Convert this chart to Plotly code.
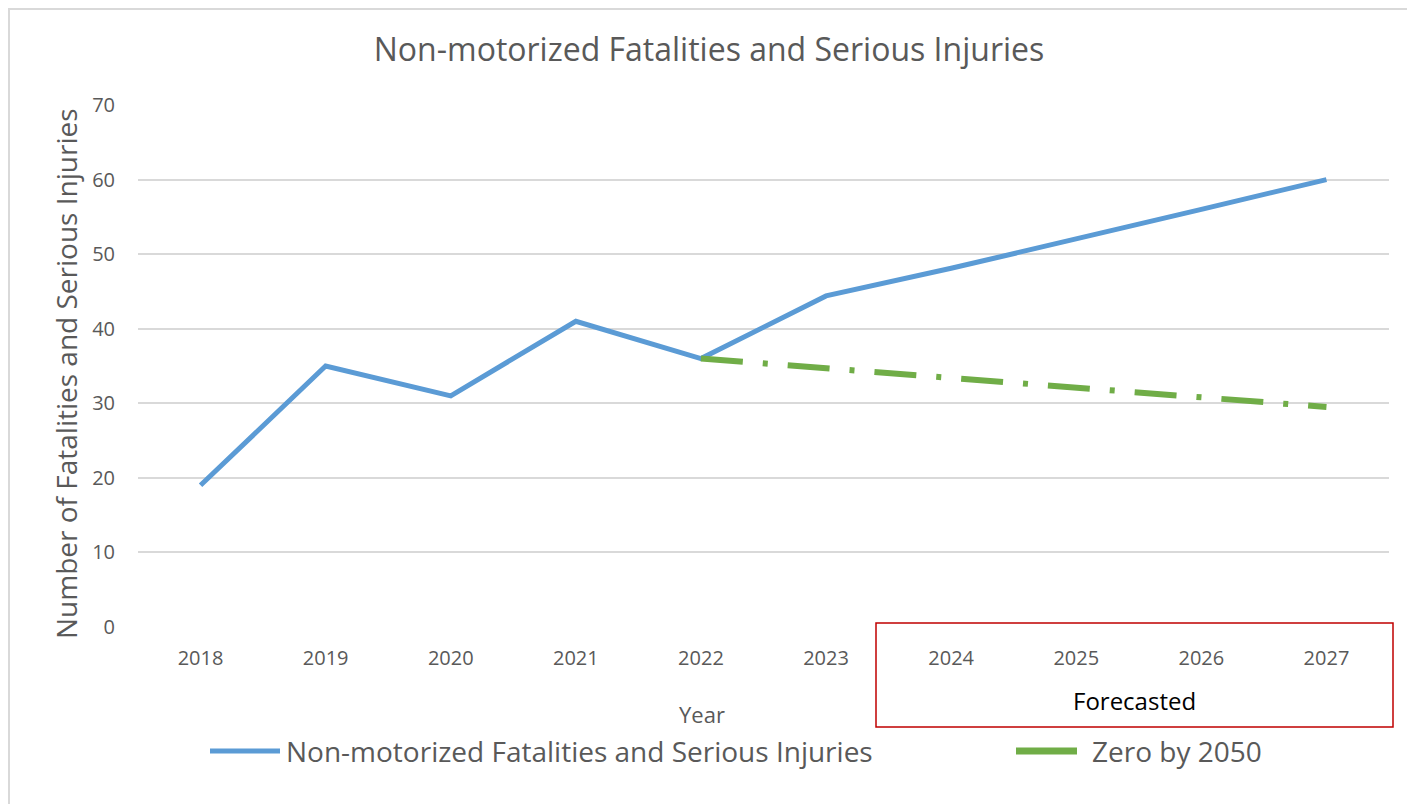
import plotly.graph_objects as go

years = ["2018", "2019", "2020", "2021", "2022", "2023", "2024", "2025", "2026", "2027"]
actual_vals = [19, 35, 31, 41, 36, 44.4, 48.1, 52, 56, 60]
target_years = ["2022", "2023", "2024", "2025", "2026", "2027"]
target_vals = [36, 34.7, 33.4, 32.1, 30.8, 29.5]
y_ticks = [0, 10, 20, 30, 40, 50, 60, 70]
series_names = ["Non-motorized Fatalities and Serious Injuries", "Zero by 2050"]
series_colors = ["#5B9BD5", "#70AD47"]

FONT = "Open Sans"
GREY_TXT = "#595959"

# the page adds an 8px body margin; lay out in reference coordinates minus 8
OFF = 8
W, H = 1415 - OFF, 804 - OFF
L, R, T, B = 138 - OFF, 1415 - 1389, 105 - OFF, 804 - 627
pw, ph = W - L - R, H - T - B

def px_x(p):
    return (p - OFF - L) / pw

def px_y(p):
    return (H - B - (p - OFF)) / ph

fig = go.Figure()
fig.add_trace(go.Scatter(
    x=years, y=actual_vals, mode="lines",
    name=series_names[0],
    line=dict(color=series_colors[0], width=5),
    showlegend=False,
))
fig.add_trace(go.Scatter(
    x=target_years, y=target_vals, mode="lines",
    name=series_names[1],
    line=dict(color=series_colors[1], width=6, dash="42px,20px,5px,20px"),
    showlegend=False,
))

fig.update_layout(
    width=W, height=H,
    margin=dict(l=L, r=R, t=T, b=B),
    paper_bgcolor="white", plot_bgcolor="white",
    font=dict(family=FONT, color=GREY_TXT),
    title=dict(text="Non-motorized Fatalities and Serious Injuries",
               x=px_x(709), xref="paper", xanchor="center",
               y=1 - (50 - OFF) / H, yref="container", yanchor="middle",
               font=dict(size=32, color=GREY_TXT, family=FONT)),
    showlegend=False,
    xaxis=dict(type="category", categoryorder="array", categoryarray=years,
               range=[-0.5, 9.5],
               showgrid=False, showline=False, zeroline=False,
               ticks="", tickfont=dict(size=20, color=GREY_TXT),
               ticklabelstandoff=17, fixedrange=True),
    yaxis=dict(range=[0, 70], tickvals=y_ticks, showgrid=True,
               gridcolor="#D9D9D9", gridwidth=1.5, zeroline=False,
               showline=False, ticks="",
               tickfont=dict(size=20, color=GREY_TXT),
               ticklabelstandoff=22, fixedrange=True),
)

# legend (drawn manually to match the long legend keys)
leg_keys = [(210, 280, 284, 5), (1016, 1077, 1090, 7)]
for (x0, x1, tx, lw), name, col in zip(leg_keys, series_names, series_colors):
    fig.add_shape(type="line", xref="paper", yref="paper",
                  x0=px_x(x0), x1=px_x(x1), y0=px_y(751), y1=px_y(751),
                  line=dict(color=col, width=lw))
    fig.add_annotation(text=name, xref="paper", yref="paper",
                       x=px_x(tx), y=px_y(751), showarrow=False,
                       font=dict(size=28, color=GREY_TXT, family=FONT),
                       xanchor="left", yanchor="middle")

fig.add_annotation(text="Number of Fatalities and Serious Injuries",
                   xref="paper", yref="paper", x=px_x(66), y=px_y(374),
                   textangle=-90, showarrow=False,
                   font=dict(size=28, color=GREY_TXT, family=FONT),
                   xanchor="center", yanchor="middle")
fig.add_annotation(text="Year", xref="paper", yref="paper",
                   x=px_x(702), y=px_y(714), showarrow=False,
                   font=dict(size=22, color=GREY_TXT, family=FONT),
                   xanchor="center", yanchor="middle")
fig.add_annotation(text="Forecasted", xref="paper", yref="paper",
                   x=px_x(1134), y=px_y(700), showarrow=False,
                   font=dict(size=24, color="black", family=FONT),
                   xanchor="center", yanchor="middle")

# Forecasted box
fig.add_shape(type="rect", xref="paper", yref="paper",
              x0=px_x(876), x1=px_x(1393), y0=px_y(727), y1=px_y(623),
              line=dict(color="#C00000", width=1.5), fillcolor="rgba(0,0,0,0)")
# outer chart border
fig.add_shape(type="rect", xref="paper", yref="paper",
              x0=px_x(9), x1=px_x(1411), y0=px_y(830), y1=px_y(9),
              line=dict(color="#D9D9D9", width=2), fillcolor="rgba(0,0,0,0)")

fig.write_html("out.html")
